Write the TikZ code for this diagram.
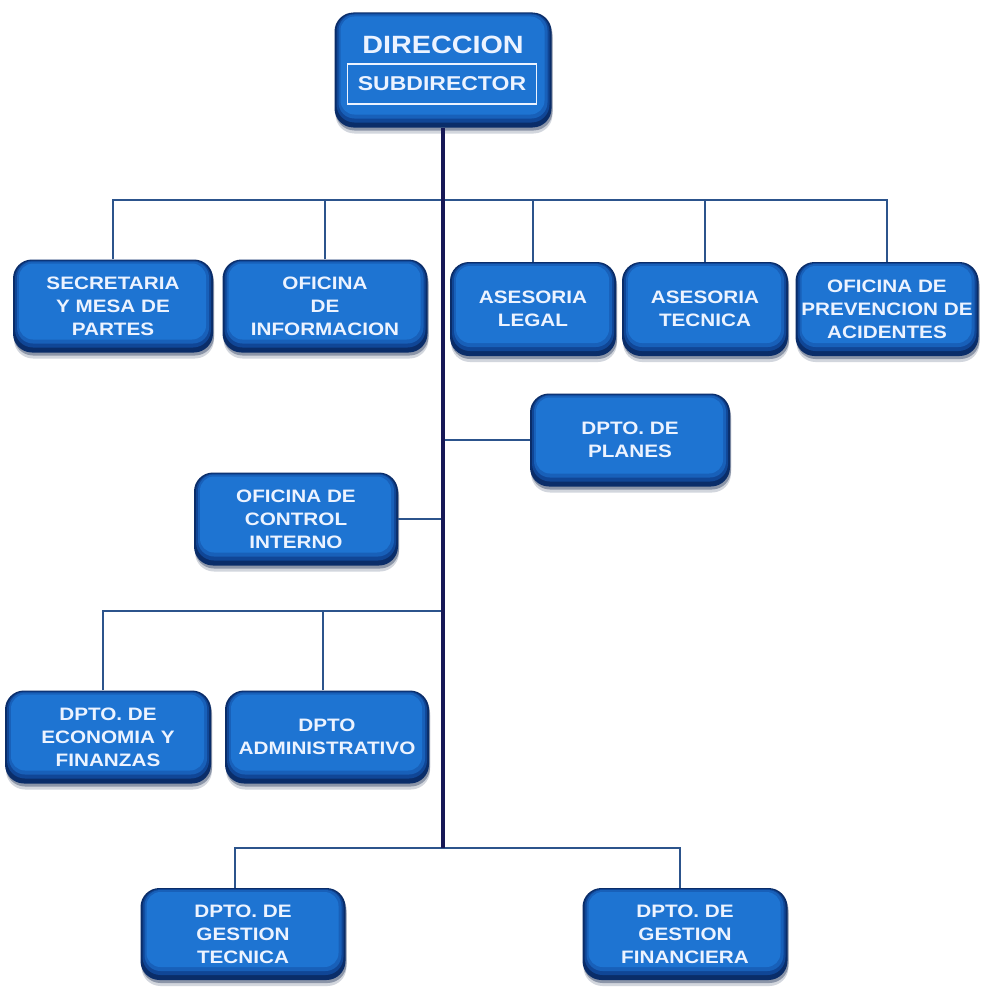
\documentclass[tikz,border=0pt]{standalone}
\usepackage{fontspec}
\newfontfamily\boxfont[FakeStretch=1.15]{Liberation Sans}
\usetikzlibrary{shadows}

\definecolor{boxedge}{RGB}{10,45,105}
\definecolor{boxmidA}{RGB}{16,70,150}
\definecolor{boxmidB}{RGB}{24,96,185}
\definecolor{boxcore}{RGB}{30,116,210}
\definecolor{shadownavy}{RGB}{8,28,70}
\definecolor{trunknavy}{RGB}{22,24,86}
\definecolor{busblue}{RGB}{44,84,140}
\definecolor{labelwhite}{RGB}{236,243,255}

\tikzset{
  % glossy rounded unit box with a darker bevelled rim and drop shadow
  unitbox/.style={
    rounded corners=19pt, fill=boxedge, inner sep=0pt, align=center,
    text=labelwhite, font=\boxfont\bfseries\fontsize{18}{23}\selectfont,
    drop shadow={shadow xshift=1pt, shadow yshift=-6pt, fill=shadownavy, opacity=0.18},
    drop shadow={shadow xshift=1pt, shadow yshift=-3pt, fill=shadownavy, opacity=0.35},
    path picture={
      \fill[boxmidA, rounded corners=18pt]
        ([shift={(2pt,-1pt)}]path picture bounding box.north west) rectangle
        ([shift={(-2pt,5pt)}]path picture bounding box.south east);
      \fill[boxmidB, rounded corners=16pt]
        ([shift={(4pt,-2pt)}]path picture bounding box.north west) rectangle
        ([shift={(-4pt,9pt)}]path picture bounding box.south east);
      \fill[boxcore, rounded corners=14pt]
        ([shift={(6pt,-4pt)}]path picture bounding box.north west) rectangle
        ([shift={(-7pt,13pt)}]path picture bounding box.south east);
    }
  },
  bus/.style={draw=busblue, line width=1.6pt},
  trunk/.style={draw=trunknavy, line width=4.5pt},
  headlabel/.style={inner sep=0pt, text=labelwhite},
}

\begin{document}
\begin{tikzpicture}[x=1pt, y=-1pt]
\useasboundingbox (0,0) rectangle (986,990);
\fill[white] (0,0) rectangle (986,990);

% head box
\node[unitbox, minimum width=217pt, minimum height=115pt] (dir) at (443,70) {};
\node[headlabel, font=\boxfont\bfseries\fontsize{25}{28}\selectfont] (dirlbl) at (443,45) {DIRECCION};
\node[headlabel, draw=labelwhite, line width=1.3pt, minimum width=189pt, minimum height=40pt,
      font=\boxfont\bfseries\fontsize{20}{24}\selectfont] (sub) at (442,84) {SUBDIRECTOR};

% first row of offices
\node[unitbox, minimum width=200pt, minimum height=93pt] (sec)  at (113,306) {SECRETARIA\\Y MESA DE\\PARTES};
\node[unitbox, minimum width=205pt, minimum height=93pt] (inf)  at (325,306) {OFICINA\\DE\\INFORMACION};
\node[unitbox, minimum width=166pt, minimum height=94pt] (leg)  at (533,309) {ASESORIA\\LEGAL};
\node[unitbox, minimum width=166pt, minimum height=94pt] (tec)  at (705,309) {ASESORIA\\TECNICA};
\node[unitbox, minimum width=183pt, minimum height=94pt] (prev) at (887,309) {OFICINA DE\\PREVENCION DE\\ACIDENTES};

% units hanging off the trunk
\node[unitbox, minimum width=200pt, minimum height=93pt] (plan) at (630,440) {DPTO. DE\\PLANES};
\node[unitbox, minimum width=204pt, minimum height=93pt] (ctrl) at (296,519) {OFICINA DE\\CONTROL\\INTERNO};

% departments
\node[unitbox, minimum width=206pt, minimum height=93pt] (eco)  at (108,737) {DPTO. DE\\ECONOMIA Y\\FINANZAS};
\node[unitbox, minimum width=204pt, minimum height=93pt] (adm)  at (327,737) {DPTO\\ADMINISTRATIVO};
\node[unitbox, minimum width=205pt, minimum height=92pt] (gtec) at (243,934) {DPTO. DE\\GESTION\\TECNICA};
\node[unitbox, minimum width=205pt, minimum height=92pt] (gfin) at (685,934) {DPTO. DE\\GESTION\\FINANCIERA};

% junctions on the trunk
\coordinate (j1) at (443,200);
\coordinate (j2) at (443,611);
\coordinate (tEnd) at (443,848);

% connectors
\draw[bus] (sec.north) |- (j1);
\draw[bus] (inf.north) |- (j1);
\draw[bus] (leg.north) |- (j1);
\draw[bus] (tec.north) |- (j1);
\draw[bus] (prev.north) |- (j1);
\draw[bus] (plan.west) -- (plan.west -| tEnd);
\draw[bus] (ctrl.east) -- (ctrl.east -| tEnd);
\draw[bus] ([xshift=-5pt]eco.north) |- (j2);
\draw[bus] ([xshift=-4pt]adm.north) |- (j2);
\draw[bus] ([xshift=-8pt]gtec.north) |- (tEnd);
\draw[bus] ([xshift=-5pt]gfin.north) |- (tEnd);
\draw[trunk] (dir.south) -- (tEnd);
\end{tikzpicture}
\end{document}
